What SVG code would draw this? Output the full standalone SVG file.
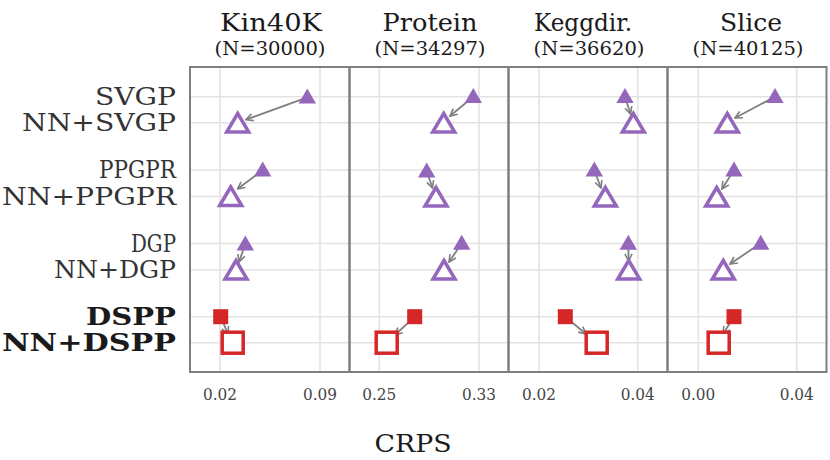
<svg xmlns="http://www.w3.org/2000/svg" width="830" height="460" viewBox="0 0 830 460">
<defs>
<style>
text{font-family:"DejaVu Serif","Liberation Serif",serif;fill:#333}
.t{font-size:24px;text-anchor:middle;fill:#1a1a1a}
.n{font-size:19px;text-anchor:middle;fill:#1a1a1a}
.y{font-size:24px;text-anchor:end;fill:#333}
.b{font-weight:bold;fill:#1a1a1a}
.x{font-size:16px;text-anchor:middle;fill:#444}
.g{stroke:#e3e3e3;stroke-width:1.6}
.p{fill:none;stroke:#7f7f7f;stroke-width:2}
.pf{fill:#9467bd}
.po{fill:#fff;stroke:#9467bd;stroke-width:3.5;stroke-linejoin:miter}
.rf{fill:#d62728}
.ro{fill:#fff;stroke:#d62728;stroke-width:3.5}
.a{stroke:#7f7f7f;stroke-width:1.8;fill:none;marker-end:url(#ah)}
</style>
<marker id="ah" viewBox="0 0 10 10" refX="9" refY="5" markerWidth="5" markerHeight="5" orient="auto" markerUnits="strokeWidth">
<path d="M1,1 L9,5 L1,9" fill="none" stroke="#7f7f7f" stroke-width="1.8"/>
</marker>
</defs>
<rect width="830" height="460" fill="#fff"/>
<g id="grid">
<path class="g" d="M190,96.7H826M190,122.7H826M190,170H826M190,196.5H826M190,243.5H826M190,270H826M190,316.7H826M190,342.7H826"/>
<path class="g" d="M220,67V372M320,67V372M379.3,67V372M479,67V372M539,67V372M637.7,67V372M698.3,67V372M796.7,67V372"/>
</g>
<g id="titles">
<text class="t" x="271" y="31" textLength="102" lengthAdjust="spacingAndGlyphs">Kin40K</text><text class="n" x="270" y="55" textLength="111" lengthAdjust="spacingAndGlyphs">(N=30000)</text>
<text class="t" x="430" y="31" textLength="95" lengthAdjust="spacingAndGlyphs">Protein</text><text class="n" x="430" y="55" textLength="111" lengthAdjust="spacingAndGlyphs">(N=34297)</text>
<text class="t" x="583" y="31" textLength="98" lengthAdjust="spacingAndGlyphs">Keggdir.</text><text class="n" x="589" y="55" textLength="111" lengthAdjust="spacingAndGlyphs">(N=36620)</text>
<text class="t" x="751" y="31" textLength="62" lengthAdjust="spacingAndGlyphs">Slice</text><text class="n" x="748" y="55" textLength="111" lengthAdjust="spacingAndGlyphs">(N=40125)</text>
</g>
<g id="ylabels">
<text class="y" x="176" y="105" textLength="81" lengthAdjust="spacingAndGlyphs">SVGP</text><text class="y" x="176" y="131" textLength="154" lengthAdjust="spacingAndGlyphs">NN+SVGP</text>
<text class="y" x="176" y="178" textLength="77" lengthAdjust="spacingAndGlyphs">PPGPR</text><text class="y" x="176" y="205" textLength="174" lengthAdjust="spacingAndGlyphs">NN+PPGPR</text>
<text class="y" x="176" y="252" textLength="45" lengthAdjust="spacingAndGlyphs">DGP</text><text class="y" x="176" y="278" textLength="122" lengthAdjust="spacingAndGlyphs">NN+DGP</text>
<text class="y b" x="176" y="325" textLength="90" lengthAdjust="spacingAndGlyphs">DSPP</text><text class="y b" x="176" y="351" textLength="174" lengthAdjust="spacingAndGlyphs">NN+DSPP</text>
</g>
<g id="xlabels">
<text class="x" x="220" y="400" textLength="34" lengthAdjust="spacingAndGlyphs">0.02</text><text class="x" x="320" y="400" textLength="34" lengthAdjust="spacingAndGlyphs">0.09</text>
<text class="x" x="379.3" y="400" textLength="34" lengthAdjust="spacingAndGlyphs">0.25</text><text class="x" x="479" y="400" textLength="34" lengthAdjust="spacingAndGlyphs">0.33</text>
<text class="x" x="539" y="400" textLength="34" lengthAdjust="spacingAndGlyphs">0.02</text><text class="x" x="637.7" y="400" textLength="34" lengthAdjust="spacingAndGlyphs">0.04</text>
<text class="x" x="698.3" y="400" textLength="34" lengthAdjust="spacingAndGlyphs">0.00</text><text class="x" x="796.7" y="400" textLength="34" lengthAdjust="spacingAndGlyphs">0.04</text>
<text class="t" x="413" y="452" textLength="77" lengthAdjust="spacingAndGlyphs">CRPS</text>
</g>
<g id="connectors">
<line class="a" x1="307.3" y1="97.3" x2="246" y2="119.7"/>
<line class="a" x1="262.7" y1="170" x2="237.5" y2="189"/>
<line class="a" x1="245.3" y1="244" x2="239" y2="262"/>
<line class="a" x1="220.7" y1="316.7" x2="228" y2="334"/>
<line class="a" x1="473.3" y1="96.7" x2="450" y2="116"/>
<line class="a" x1="426.7" y1="171" x2="432.5" y2="188"/>
<line class="a" x1="461.7" y1="243.3" x2="449" y2="262"/>
<line class="a" x1="414.7" y1="316.7" x2="395" y2="335"/>
<line class="a" x1="625" y1="96.7" x2="630.5" y2="114"/>
<line class="a" x1="594.3" y1="170" x2="601" y2="188"/>
<line class="a" x1="628.3" y1="243.3" x2="628.6" y2="261"/>
<line class="a" x1="565.3" y1="316.7" x2="586" y2="334"/>
<line class="a" x1="775" y1="96.7" x2="735" y2="118"/>
<line class="a" x1="734" y1="170" x2="722" y2="189"/>
<line class="a" x1="760.7" y1="243.3" x2="730" y2="264"/>
<line class="a" x1="734" y1="316.7" x2="723" y2="334"/>
</g>
<g id="markers">
<g id="n-kin"><path class="pf" d="M307.3,88.5l8.7,15h-17.4z"/><path class="po" d="M237.7,113.5l11,18.5h-22z"/>
<path class="pf" d="M262.7,161.5l8.7,15h-17.4z"/><path class="po" d="M230.7,187l11,18.5h-22z"/>
<path class="pf" d="M245.3,235.5l8.7,15h-17.4z"/><path class="po" d="M236,260.5l11,18.5h-22z"/>
<rect class="rf" x="213.2" y="309.2" width="15" height="15"/><rect class="ro" x="222.2" y="332.2" width="21" height="21"/></g>
<g id="n-prot"><path class="pf" d="M473.3,88l8.7,15h-17.4z"/><path class="po" d="M443.7,113.5l11,18.5h-22z"/>
<path class="pf" d="M426.7,162.5l8.7,15h-17.4z"/><path class="po" d="M436,187.5l11,18.5h-22z"/>
<path class="pf" d="M461.7,234.8l8.7,15h-17.4z"/><path class="po" d="M444,260.5l11,18.5h-22z"/>
<rect class="rf" x="407.2" y="309.2" width="15" height="15"/><rect class="ro" x="376.2" y="332.2" width="21" height="21"/></g>
<g id="n-kegg"><path class="pf" d="M625,88l8.7,15h-17.4z"/><path class="po" d="M633.3,113.5l11,18.5h-22z"/>
<path class="pf" d="M594.3,161.5l8.7,15h-17.4z"/><path class="po" d="M605.3,187.5l11,18.5h-22z"/>
<path class="pf" d="M628.3,234.8l8.7,15h-17.4z"/><path class="po" d="M628.7,260.5l11,18.5h-22z"/>
<rect class="rf" x="557.8" y="309.2" width="15" height="15"/><rect class="ro" x="586.2" y="332.2" width="21" height="21"/></g>
<g id="n-slice"><path class="pf" d="M775,88l8.7,15h-17.4z"/><path class="po" d="M727.3,113.5l11,18.5h-22z"/>
<path class="pf" d="M734,161.5l8.7,15h-17.4z"/><path class="po" d="M716.7,187.5l11,18.5h-22z"/>
<path class="pf" d="M760.7,234.8l8.7,15h-17.4z"/><path class="po" d="M723.3,260.5l11,18.5h-22z"/>
<rect class="rf" x="726.5" y="309.2" width="15" height="15"/><rect class="ro" x="708.2" y="332.2" width="21" height="21"/></g>
</g>
<g id="panels">
<rect class="p" x="190" y="67" width="159.5" height="305"/>
<rect class="p" x="349.5" y="67" width="159" height="305"/>
<rect class="p" x="508.5" y="67" width="159" height="305"/>
<rect class="p" x="667.5" y="67" width="159" height="305"/>
</g>
</svg>
